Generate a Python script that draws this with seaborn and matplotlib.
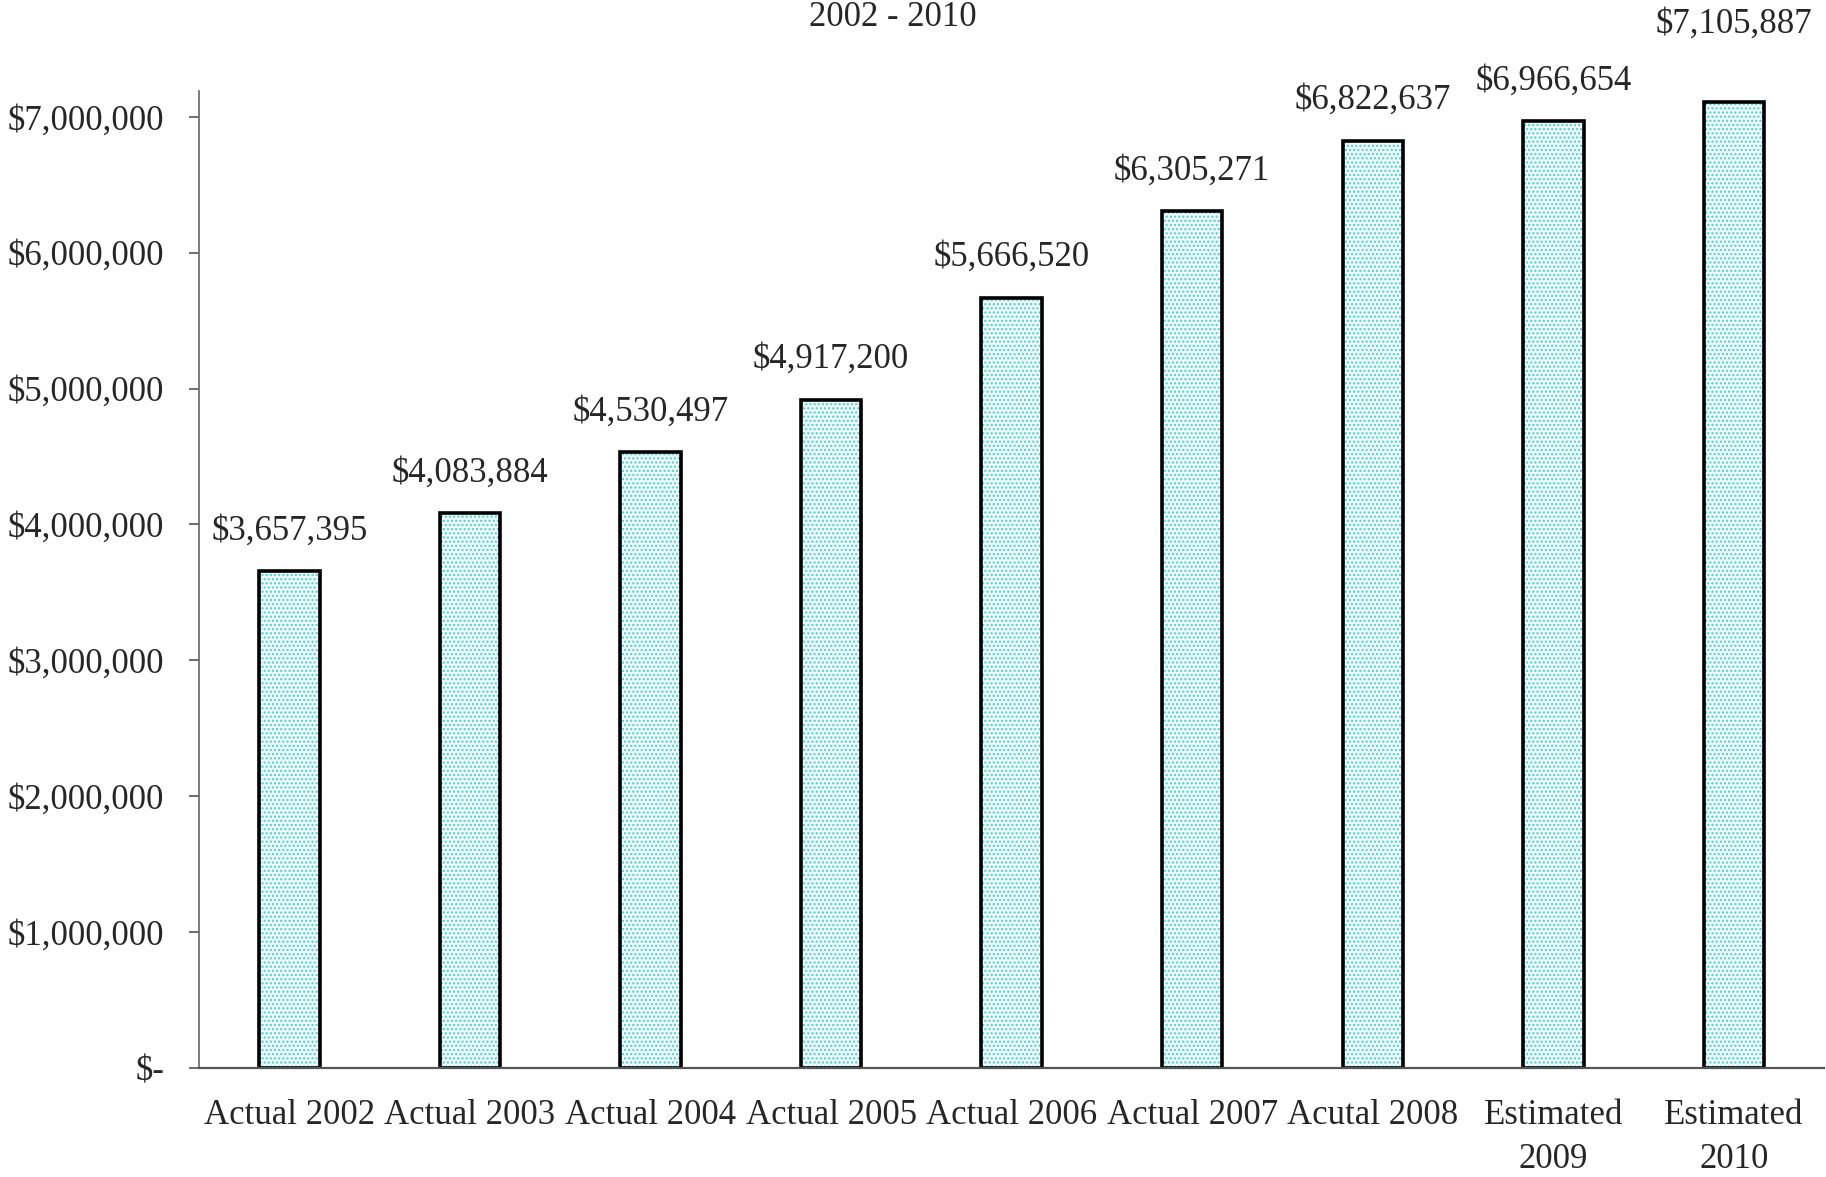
import numpy as np
import pandas as pd
import matplotlib
matplotlib.use('Agg')
import matplotlib.pyplot as plt
import seaborn as sns

categories = ["Actual 2002", "Actual 2003", "Actual 2004", "Actual 2005", "Actual 2006",
              "Actual 2007", "Acutal 2008", "Estimated\n2009", "Estimated\n2010"]
values = [3657395, 4083884, 4530497, 4917200, 5666520, 6305271, 6822637, 6966654, 7105887]
yticks = [0, 1000000, 2000000, 3000000, 4000000, 5000000, 6000000, 7000000]
ytick_labels = ["$-", "$1,000,000", "$2,000,000", "$3,000,000", "$4,000,000",
                "$5,000,000", "$6,000,000", "$7,000,000"]

sns.set_style("white")
plt.rcParams['font.family'] = ['Liberation Serif', 'DejaVu Serif']
plt.rcParams['hatch.linewidth'] = 1.1

df = pd.DataFrame({"year": categories, "amount": values})

fig = plt.figure(figsize=(18.26, 11.77), dpi=100)
ax = fig.add_axes([0.109, 0.0926, 0.89, 0.8301])

# dotted cyan fill, then black outline on top
sns.barplot(data=df, x="year", y="amount", color="#f4fcfc", edgecolor="#45d3d3",
            hatch="....", linewidth=0, width=0.335, ax=ax)
sns.barplot(data=df, x="year", y="amount", fill=False, edgecolor="black",
            linewidth=2.6, width=0.335, ax=ax)

ax.set_xlim(-0.5, 8.5)
ax.set_ylim(0, 7190000)
ax.set_yticks(yticks)
ax.set_yticklabels(ytick_labels, fontsize=25)
ax.set_xticks(range(len(categories)))
ax.set_xticklabels(categories, fontsize=25, linespacing=1.45)
ax.set_xlabel("")
ax.set_ylabel("")

ax.tick_params(axis='y', direction='out', length=7, width=1.2, color='#555555', pad=18, left=True)
ax.tick_params(axis='x', length=0, pad=22)

for s in ['top', 'right']:
    ax.spines[s].set_visible(False)
ax.spines['left'].set_color('#666666')
ax.spines['left'].set_linewidth(1.2)
ax.spines['bottom'].set_color('#555555')
ax.spines['bottom'].set_linewidth(1.6)

offsets = [29, 29, 29, 29, 29, 29, 29, 29, 56]
for i, v in enumerate(values):
    ax.annotate("${:,}".format(v), xy=(i, v), xytext=(0, offsets[i]),
                textcoords="offset points", ha="center", va="center",
                fontsize=25, annotation_clip=False)

fig.text(0.489, 0.999, "2002 - 2010", ha="center", va="top", fontsize=25)

fig.savefig("out.png", dpi=100)
